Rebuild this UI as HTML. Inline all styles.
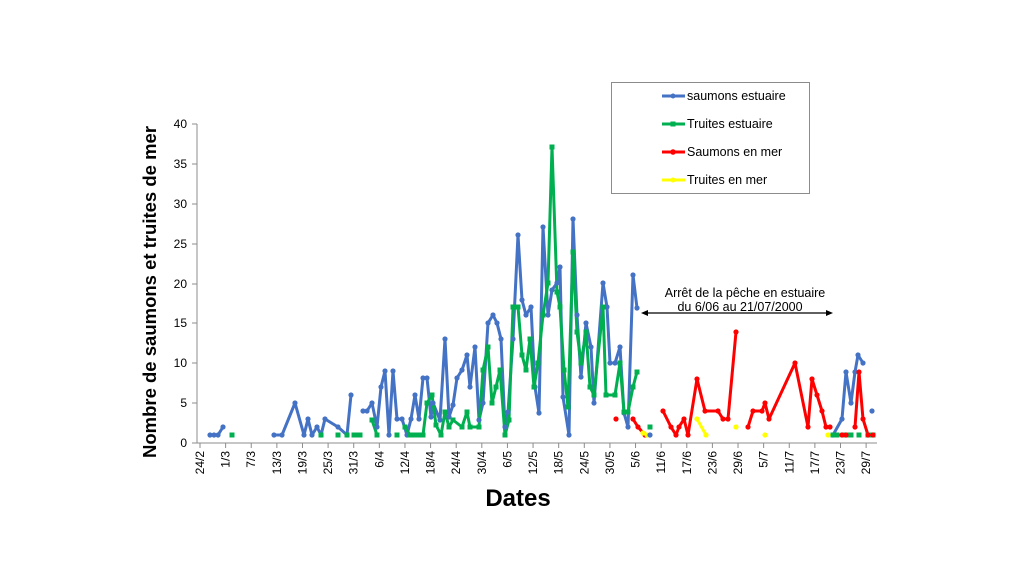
<!DOCTYPE html>
<html><head><meta charset="utf-8"><style>
body{margin:0;background:#fff;}
svg{display:block;font-family:"Liberation Sans",Arial,sans-serif;}
</style></head><body>
<svg width="1024" height="576" viewBox="0 0 1024 576" xmlns="http://www.w3.org/2000/svg">
<rect width="1024" height="576" fill="#fff"/>
<g stroke="#8c8c8c" stroke-width="1">
<line x1="197" y1="124" x2="197" y2="443"/>
<line x1="197" y1="443" x2="877" y2="443"/>
<line x1="192" y1="124" x2="197" y2="124"/>
<line x1="192" y1="164" x2="197" y2="164"/>
<line x1="192" y1="204" x2="197" y2="204"/>
<line x1="192" y1="244" x2="197" y2="244"/>
<line x1="192" y1="284" x2="197" y2="284"/>
<line x1="192" y1="323" x2="197" y2="323"/>
<line x1="192" y1="363" x2="197" y2="363"/>
<line x1="192" y1="403" x2="197" y2="403"/>
<line x1="192" y1="443" x2="197" y2="443"/>
</g>
<g font-size="12" fill="#000" text-anchor="end">
<text x="187" y="128">40</text><text x="187" y="168">35</text><text x="187" y="208">30</text>
<text x="187" y="248">25</text><text x="187" y="288">20</text><text x="187" y="327">15</text>
<text x="187" y="367">10</text><text x="187" y="407">5</text><text x="187" y="447">0</text>
</g>
<g id="xt" font-size="12" fill="#000" text-anchor="end"></g>
<text x="0" y="0" transform="translate(156,292) rotate(-90)" text-anchor="middle" font-size="18.5" font-weight="bold">Nombre de saumons et truites de mer</text>
<text x="518" y="506" text-anchor="middle" font-size="24" font-weight="bold">Dates</text>

<g fill="none" stroke-width="3" stroke-linejoin="round">
<g stroke="#4472c4">
<polyline points="210,435 214,435 218,435 223,427"/>
<polyline points="274,435 282,435 295,403 304,435 308,419 312,435 317,427 321,435 325,419 338,427 347,435 351,395"/>
<polyline points="363,411 367,411 372,403 377,427 381,387 385,371 389,435 393,371 397,419 402,419 407,435 411,419 415,395 419,419 423,378 427,378 431,417 433,403 440,420 445,339 449,417 453,405 457,378 462,370 467,355 470,387 475,347 479,420 483,403 488,323 493,315 497,323 501,339 505,427 508,412 513,339 518,235 522,300 526,315 531,307 535,387 539,413 543,227 548,315 552,290 557,283 560,267 563,397 569,435 573,219 577,315 581,377 586,323 591,347 594,403 603,283 607,307 610,363 615,363 620,347 624,413 628,427 633,275 637,308"/>
<polyline points="833,435 842,419 846,372 851,403 855,372 858,355 863,363"/>
</g>
<g stroke="#00b050">
<polyline points="372,420 377,435"/>
<polyline points="405,427 410,435 414,435 418,435 423,435 427,403 432,395 436,425 441,435 445,412 449,427 453,420 462,427 467,412 470,427 479,427 483,370 488,347 492,403 496,387 500,370 505,435 509,420 513,307 518,307 522,355 526,370 530,339 534,387 538,363 543,315 548,283 552,147 557,292 560,307 564,370 568,407 573,252 577,332 581,363 586,332 590,387 594,395 603,307 606,395 615,395 620,363 624,412 628,412 633,387 637,372"/>
<polyline points="833,435 837,435 843,435 847,435 851,435"/>
<polyline points="868,435 873,435"/>
</g>
<g stroke="#ff0000">
<polyline points="633,419 638,427 645,435"/>
<polyline points="663,411 671,427 676,435 679,427 684,419 688,435 697,379 705,411 718,411 723,419 728,419 736,332"/>
<polyline points="748,427 753,411 762,411 765,403 769,419 795,363 808,427 812,379 817,395 822,411 826,427 830,427"/>
<polyline points="842,435 846,435"/>
<polyline points="855,427 859,372 863,419 868,435 873,435"/>
</g>
<g stroke="#ffff00">
<polyline points="697,419 706,435"/>
<polyline points="643,433 647,435"/>
</g>
</g>
<g id="mk"></g>

<g stroke="#000" stroke-width="1.2">
<line x1="645" y1="313" x2="829" y2="313"/>
</g>
<polygon points="641,313 648,310 648,316" fill="#000"/>
<polygon points="833,313 826,310 826,316" fill="#000"/>
<text x="745" y="297" text-anchor="middle" font-size="12.5">Arrêt de la pêche en estuaire</text>
<text x="740" y="311" text-anchor="middle" font-size="12.5">du 6/06 au 21/07/2000</text>

<rect x="611.5" y="82.5" width="198" height="111" fill="#fff" stroke="#8c8c8c"/>
<g stroke-width="3">
<line x1="662" y1="96" x2="685" y2="96" stroke="#4472c4"/>
<line x1="662" y1="124" x2="685" y2="124" stroke="#00b050"/>
<line x1="662" y1="152" x2="685" y2="152" stroke="#ff0000"/>
<line x1="662" y1="180" x2="685" y2="180" stroke="#ffff00"/>
</g>
<circle cx="673" cy="96" r="2.5" fill="#4472c4"/>
<rect x="670.5" y="121.5" width="5" height="5" fill="#00b050"/>
<circle cx="673" cy="152" r="2.8" fill="#ff0000"/>
<circle cx="673" cy="180" r="2.5" fill="#ffff00"/>
<g font-size="12.5" fill="#000">
<text x="687" y="100">saumons estuaire</text>
<text x="687" y="128">Truites estuaire</text>
<text x="687" y="156">Saumons en mer</text>
<text x="687" y="184">Truites en mer</text>
</g>
<script>
(function(){
var NS="http://www.w3.org/2000/svg";
var labels=["24/2","1/3","7/3","13/3","19/3","25/3","31/3","6/4","12/4","18/4","24/4","30/4","6/5","12/5","18/5","24/5","30/5","5/6","11/6","17/6","23/6","29/6","5/7","11/7","17/7","23/7","29/7"];
var g=document.getElementById("xt");
var ax=document.querySelector("svg");
labels.forEach(function(l,i){
 var x=200+i*25.62;
 var ln=document.createElementNS(NS,"line");
 ln.setAttribute("x1",x);ln.setAttribute("x2",x);ln.setAttribute("y1",443);ln.setAttribute("y2",448);
 ln.setAttribute("stroke","#8c8c8c");ax.insertBefore(ln,g);
 var t=document.createElementNS(NS,"text");
 t.setAttribute("transform","translate("+(x+4)+",451) rotate(-90)");
 t.textContent=l;g.appendChild(t);
});
var mk=document.getElementById("mk");
function mkEl(x,y,color,shape){var e;
 if(shape=="r"){e=document.createElementNS(NS,"rect");e.setAttribute("x",x-2.5);e.setAttribute("y",y-2.5);e.setAttribute("width",5);e.setAttribute("height",5);}
 else{e=document.createElementNS(NS,"circle");e.setAttribute("cx",x);e.setAttribute("cy",y);e.setAttribute("r",2.6);}
 e.setAttribute("fill",color);mk.appendChild(e);}
function dots(sel,color,shape){
 document.querySelectorAll(sel).forEach(function(p){
  p.getAttribute("points").trim().split(/\s+/).forEach(function(s){
   var a=s.split(",");mkEl(+a[0],+a[1],color,shape);
  });
 });
}
dots('g[stroke="#4472c4"] polyline',"#4472c4","c");
dots('g[stroke="#00b050"] polyline',"#00b050","r");
dots('g[stroke="#ff0000"] polyline',"#ff0000","c");
dots('g[stroke="#ffff00"] polyline',"#ffff00","c");
[[650,435,"#4472c4","c"],[872,411,"#4472c4","c"],[232,435,"#00b050","r"],[321,435,"#00b050","r"],[338,435,"#00b050","r"],[347,435,"#00b050","r"],[354,435,"#00b050","r"],[357,435,"#00b050","r"],[360,435,"#00b050","r"],[397,435,"#00b050","r"],[650,427,"#00b050","r"],[859,435,"#00b050","r"],[616,419,"#ff0000","c"],[736,427,"#ffff00","c"],[765,435,"#ffff00","c"],[828,435,"#ffff00","c"]].forEach(function(d){mkEl(d[0],d[1],d[2],d[3]);});
})();
</script>
</svg>
</body></html>
